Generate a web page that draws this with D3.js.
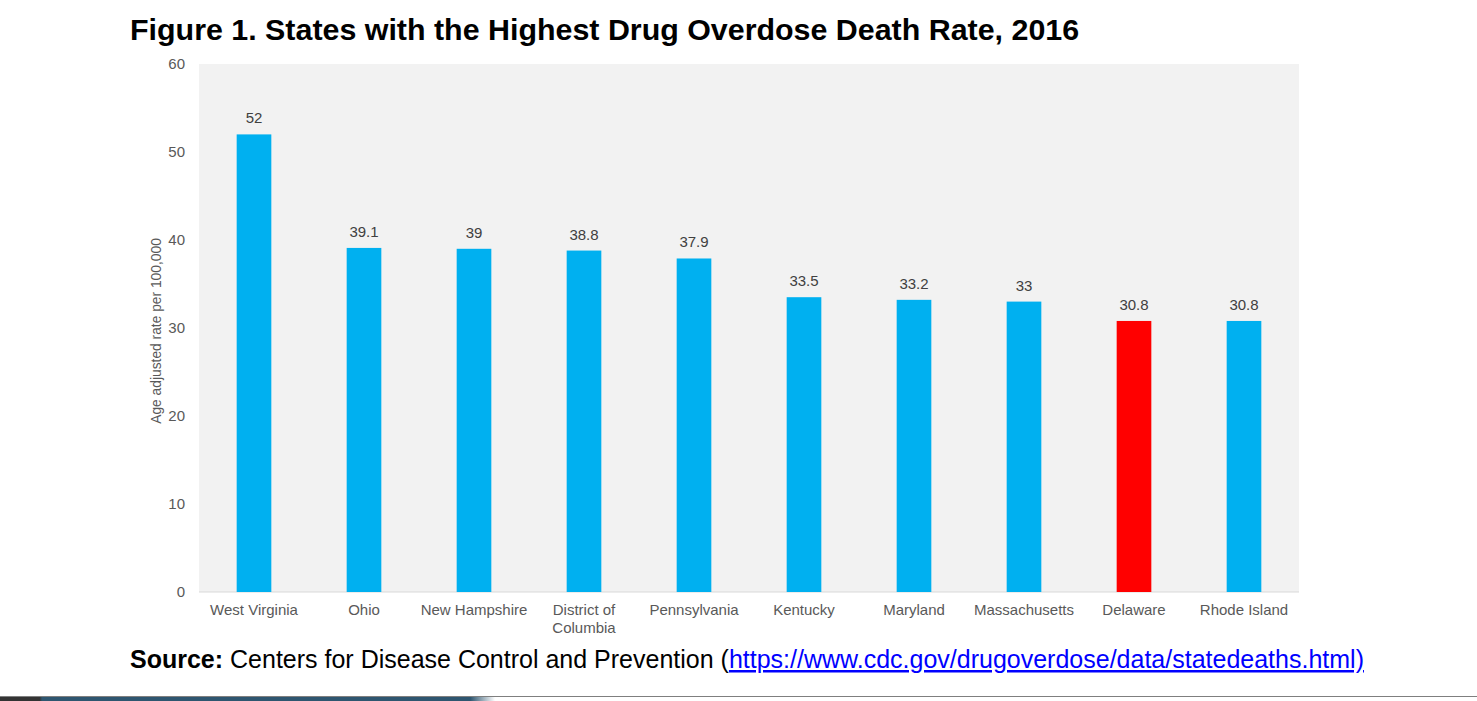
<!DOCTYPE html>
<html>
<head>
<meta charset="utf-8">
<script src="https://cdn.jsdelivr.net/npm/d3@7"></script>
<style>
  body { margin: 0; background: #fff; font-family: Arial, "Liberation Sans", sans-serif; }
  svg { display: block; }
</style>
</head>
<body>
<svg id="chart" width="1477" height="701"></svg>
<script>
// chart data
var states = ["West Virginia", "Ohio", "New Hampshire", "District of Columbia", "Pennsylvania",
  "Kentucky", "Maryland", "Massachusetts", "Delaware", "Rhode Island"];
var rates = [52, 39.1, 39, 38.8, 37.9, 33.5, 33.2, 33, 30.8, 30.8];
var highlight = ["Delaware"];
var yTicks = [0, 10, 20, 30, 40, 50, 60];

var svg = d3.select("#chart");

var plotLeft = 199, plotRight = 1299, plotTop = 64, plotBottom = 592;

var x = d3.scaleBand()
  .domain(states)
  .range([plotLeft, plotRight])
  .paddingInner(0.685)
  .paddingOuter(0.3425);

var y = d3.scaleLinear()
  .domain([0, 60])
  .range([plotBottom, plotTop]);

// title
svg.append("text")
  .attr("x", 130)
  .attr("y", 40)
  .style("font-size", "30.4px")
  .style("font-weight", "bold")
  .attr("fill", "#000")
  .text("Figure 1. States with the Highest Drug Overdose Death Rate, 2016");

// plot background
svg.append("rect")
  .attr("x", plotLeft)
  .attr("y", plotTop)
  .attr("width", plotRight - plotLeft)
  .attr("height", plotBottom - plotTop)
  .attr("fill", "#f2f2f2");

// y axis
var yAxis = d3.axisLeft(y).tickValues(yTicks).tickSize(0).tickPadding(14);
var yg = svg.append("g")
  .attr("transform", "translate(" + plotLeft + ",0)")
  .call(yAxis);
yg.select(".domain").remove();
yg.selectAll("text")
  .style("font-family", "Arial, 'Liberation Sans', sans-serif")
  .style("font-size", "15px")
  .attr("fill", "#595959");

// zero line
svg.append("line")
  .attr("x1", plotLeft).attr("x2", plotRight)
  .attr("y1", y(0)).attr("y2", y(0))
  .attr("stroke", "#d9d9d9")
  .attr("stroke-width", 1);

// y axis title
svg.append("text")
  .attr("transform", "translate(161,331) rotate(-90)")
  .attr("text-anchor", "middle")
  .style("font-size", "13.8px")
  .attr("fill", "#595959")
  .text("Age adjusted rate per 100,000");

// bars
svg.selectAll(".bar")
  .data(states)
  .enter().append("rect")
  .attr("class", "bar")
  .attr("x", function(d){ return x(d); })
  .attr("y", function(d, i){ return y(rates[i]); })
  .attr("width", x.bandwidth())
  .attr("height", function(d, i){ return y(0) - y(rates[i]); })
  .attr("fill", function(d){ return highlight.includes(d) ? "#ff0000" : "#00b0f0"; });

// value labels
svg.selectAll(".val")
  .data(states)
  .enter().append("text")
  .attr("class", "val")
  .attr("x", function(d){ return x(d) + x.bandwidth() / 2; })
  .attr("y", function(d, i){ return y(rates[i]) - 11; })
  .attr("text-anchor", "middle")
  .style("font-size", "15px")
  .attr("fill", "#404040")
  .text(function(d, i){ return rates[i]; });

// category labels (wrapped to fit band)
var xAxis = d3.axisBottom(x).tickSize(0).tickPadding(0);
var xg = svg.append("g")
  .attr("transform", "translate(0," + plotBottom + ")")
  .call(xAxis);
xg.select(".domain").remove();
xg.selectAll("text").remove();
xg.selectAll(".tick").each(function(d){
  var words = d === "District of Columbia" ? ["District of", "Columbia"] : [d];
  var t = d3.select(this).append("text")
    .attr("text-anchor", "middle")
    .style("font-family", "Arial, 'Liberation Sans', sans-serif")
    .style("font-size", "15px")
    .attr("fill", "#595959");
  words.forEach(function(w, i){
    t.append("tspan").attr("x", 0).attr("y", 23 + i * 18).text(w);
  });
});

// source line
var src = svg.append("text")
  .attr("x", 130)
  .attr("y", 668)
  .style("font-size", "25px")
  .attr("fill", "#000");
src.append("tspan").style("font-weight", "bold").text("Source:");
src.append("tspan").text(" Centers for Disease Control and Prevention (");
src.append("tspan")
  .attr("fill", "#0000ff")
  .style("text-decoration", "underline")
  .text("https://www.cdc.gov/drugoverdose/data/statedeaths.html)");

// page footer rule
var grad = svg.append("defs").append("linearGradient").attr("id", "footGrad");
grad.append("stop").attr("offset", "0%").attr("stop-color", "#333333");
grad.append("stop").attr("offset", "8%").attr("stop-color", "#333333");
grad.append("stop").attr("offset", "8.5%").attr("stop-color", "#2e5670");
grad.append("stop").attr("offset", "95%").attr("stop-color", "#2e5670");
grad.append("stop").attr("offset", "100%").attr("stop-color", "#ffffff");

svg.append("line")
  .attr("x1", 0).attr("x2", 1477)
  .attr("y1", 696.5).attr("y2", 696.5)
  .attr("stroke", "#7f7f7f")
  .attr("stroke-width", 1);
svg.append("rect")
  .attr("x", 0).attr("y", 697)
  .attr("width", 495).attr("height", 4)
  .attr("fill", "url(#footGrad)");
</script>
</body>
</html>
